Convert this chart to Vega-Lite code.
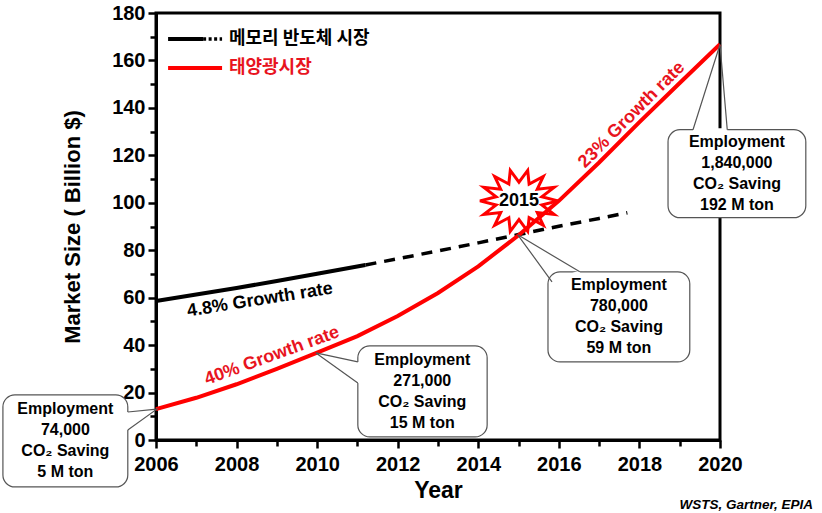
{
  "$schema": "https://vega.github.io/schema/vega-lite/v6.json",
  "width": 564,
  "height": 427,
  "autosize": {"type": "none"},
  "padding": {"left": 156, "top": 13, "right": 102, "bottom": 73},
  "background": "white",
  "config": {
    "view": {"stroke": "black", "strokeWidth": 3},
    "font": "Liberation Sans"
  },
  "datasets": {
    "mem": [{"x":2006,"y":58.6},{"x":2007,"y":61.3},{"x":2008,"y":64.1},{"x":2009,"y":67.0},{"x":2010,"y":70.1},{"x":2011.2,"y":73.8}],
    "memF": [{"x":2011.2,"y":73.8},{"x":2012,"y":76.4},{"x":2013,"y":79.7},{"x":2014,"y":83.1},{"x":2015,"y":86.6},{"x":2016,"y":90.1},{"x":2017,"y":93.4},{"x":2017.7,"y":95.8}],
    "solar": [{"x":2006,"y":13},{"x":2007,"y":17.8},{"x":2008,"y":23.5},{"x":2009,"y":30},{"x":2010,"y":36.8},{"x":2011,"y":43.8},{"x":2012,"y":52.3},{"x":2013,"y":62},{"x":2014,"y":73.2},{"x":2015,"y":86.3},{"x":2016,"y":100.8},{"x":2017,"y":117},{"x":2018,"y":134},{"x":2019,"y":150.5},{"x":2020,"y":166.8}],
    "boxes": [
      {"b":1,"x":2002.2,"x2":2005.3,"y":19.0,"y2":-19.8},
      {"b":2,"x":2011.01,"x2":2014.22,"y":39.7,"y2":1.3},
      {"b":3,"x":2015.73,"x2":2019.25,"y":70.9,"y2":32.9},
      {"b":4,"x":2018.71,"x2":2022.13,"y":130.8,"y2":93.7}
    ],
    "boxtext": [
      {"b":1,"x":2003.75,"y":-0.4,"t":"Employment\n74,000\nCO₂ Saving\n5 M ton"},
      {"b":2,"x":2012.61,"y":20.5,"t":"Employment\n271,000\nCO₂ Saving\n15 M ton"},
      {"b":3,"x":2017.49,"y":51.9,"t":"Employment\n780,000\nCO₂ Saving\n59 M ton"},
      {"b":4,"x":2020.42,"y":112.2,"t":"Employment\n1,840,000\nCO₂ Saving\n192 M ton"}
    ],
    "tails": [
      {"b":1,"o":1,"x":2005.3,"y":11.8},{"b":1,"o":2,"x":2006.02,"y":13.0},{"b":1,"o":3,"x":2005.3,"y":4.2},
      {"b":2,"o":1,"x":2011.01,"y":32.9},{"b":2,"o":2,"x":2009.97,"y":36.7},{"b":2,"o":3,"x":2011.01,"y":24.0},
      {"b":3,"o":1,"x":2015.83,"y":66.7},{"b":3,"o":2,"x":2014.98,"y":86.5},{"b":3,"o":3,"x":2016.52,"y":70.9},
      {"b":4,"o":1,"x":2019.33,"y":130.8},{"b":4,"o":2,"x":2020.0,"y":166.7},{"b":4,"o":3,"x":2020.18,"y":130.8}
    ],
    "star": [{"x":2015.01,"y":100.8,"t":"2015"}],
    "n48": [{"x":2008.58,"y":59.0,"t":"4.8% Growth rate"}],
    "n40": [{"x":2008.88,"y":35.4,"t":"40% Growth rate"}],
    "n23": [{"x":2017.81,"y":137.0,"t":"23% Growth rate"}],
    "legSolid": [{"x":2006.3,"x2":2007.17,"y":169}],
    "legDot": [{"x":2007.17,"x2":2007.64,"y":169}],
    "legRed": [{"x":2006.3,"x2":2007.64,"y":156.8}],
    "legT1": [{"x":2007.81,"y":169,"t":"메모리 반도체 시장"}],
    "legT2": [{"x":2007.81,"y":156.8,"t":"태양광시장"}],
    "src": [{"x":2022.31,"y":-27.4,"t":"WSTS, Gartner, EPIA"}]
  },
  "encoding": {
    "x": {
      "field": "x", "type": "quantitative",
      "scale": {"domain": [2006, 2020], "nice": false, "zero": false},
      "axis": {
        "title": "Year",
        "values": [2006,2007,2008,2009,2010,2011,2012,2013,2014,2015,2016,2017,2018,2019,2020],
        "format": "d",
        "labelExpr": "datum.value % 2 === 0 ? datum.label : ''",
        "labelOverlap": false,
        "labelFlush": false,
        "grid": false,
        "domainColor": "black", "domainWidth": 3,
        "tickColor": "black", "tickWidth": 2.5,
        "tickSize": {"condition": {"test": "datum.value % 2 === 0", "value": 8}, "value": 6},
        "labelFont": "Liberation Sans", "labelFontSize": 20, "labelFontWeight": "bold", "labelColor": "black",
        "labelPadding": 6,
        "titleFont": "Liberation Sans", "titleFontSize": 23, "titleFontWeight": "bold", "titleColor": "black",
        "titleX": 282, "titleY": 50, "titleBaseline": "middle", "titleAlign": "center"
      }
    },
    "y": {
      "field": "y", "type": "quantitative",
      "scale": {"domain": [0, 180], "nice": false, "zero": false},
      "axis": {
        "title": "Market Size ( Billion $)",
        "values": [0,10,20,30,40,50,60,70,80,90,100,110,120,130,140,150,160,170,180],
        "labelExpr": "datum.value % 20 === 0 ? datum.label : ''",
        "labelOverlap": false,
        "labelFlush": false,
        "grid": false,
        "domainColor": "black", "domainWidth": 3,
        "tickColor": "black", "tickWidth": 2.5,
        "tickSize": {"condition": {"test": "datum.value % 20 === 0", "value": 8}, "value": 6},
        "labelFont": "Liberation Sans", "labelFontSize": 20, "labelFontWeight": "bold", "labelColor": "black",
        "labelPadding": 3,
        "titleFont": "Liberation Sans", "titleFontSize": 22, "titleFontWeight": "bold", "titleColor": "black",
        "titleAngle": -90, "titleX": -84, "titleY": 213.5, "titleBaseline": "middle", "titleAlign": "center"
      }
    }
  },
  "layer": [
    {
      "data": {"name": "star"},
      "mark": {"type": "point", "filled": true, "fill": "white", "stroke": "#ff0000", "strokeWidth": 3, "opacity": 1, "size": 6084,
        "shape": "M1,0L0.585,0.107L0.901,0.347L0.469,0.299L0.624,0.625L0.26,0.432L0.223,0.78L0,0.48L-0.223,0.78L-0.26,0.432L-0.624,0.625L-0.469,0.299L-0.901,0.347L-0.585,0.107L-1,0L-0.585,-0.107L-0.901,-0.347L-0.469,-0.299L-0.624,-0.625L-0.26,-0.432L-0.223,-0.78L0,-0.48L0.223,-0.78L0.26,-0.432L0.624,-0.625L0.469,-0.299L0.901,-0.347L0.585,-0.107Z"}
    },
    {
      "data": {"name": "mem"},
      "mark": {"type": "line", "color": "black", "strokeWidth": 4}
    },
    {
      "data": {"name": "memF"},
      "mark": {"type": "line", "color": "black", "strokeWidth": 3.5, "strokeDash": [11, 8]}
    },
    {
      "data": {"name": "solar"},
      "mark": {"type": "line", "color": "#ff0000", "strokeWidth": 4}
    },
    {
      "data": {"name": "star"},
      "mark": {"type": "text", "font": "Liberation Sans", "fontSize": 18, "fontWeight": "bold", "color": "black", "align": "center", "baseline": "middle"},
      "encoding": {"text": {"field": "t"}}
    },
    {
      "data": {"name": "boxes"},
      "mark": {"type": "rect", "fill": "white", "stroke": "#555555", "strokeWidth": 1.2, "cornerRadius": 12},
      "encoding": {"x2": {"field": "x2"}, "y2": {"field": "y2"}}
    },
    {
      "data": {"name": "tails"},
      "transform": [{"filter": "datum.o !== 2"}],
      "mark": {"type": "line", "color": "white", "strokeWidth": 3},
      "encoding": {"detail": {"field": "b"}, "order": {"field": "o"}}
    },
    {
      "data": {"name": "tails"},
      "mark": {"type": "line", "color": "#555555", "strokeWidth": 1.2},
      "encoding": {"detail": {"field": "b"}, "order": {"field": "o"}}
    },
    {
      "data": {"name": "boxtext"},
      "mark": {"type": "text", "font": "Liberation Sans", "fontSize": 16, "fontWeight": "bold", "color": "black", "align": "center", "baseline": "middle", "lineBreak": "\n", "lineHeight": 21, "dy": -31.5},
      "encoding": {"text": {"field": "t"}}
    },
    {
      "data": {"name": "n48"},
      "mark": {"type": "text", "font": "Liberation Sans", "fontSize": 18, "fontWeight": "bold", "color": "black", "align": "center", "baseline": "middle", "angle": 351},
      "encoding": {"text": {"field": "t"}}
    },
    {
      "data": {"name": "n40"},
      "mark": {"type": "text", "font": "Liberation Sans", "fontSize": 18, "fontWeight": "bold", "color": "#e8141e", "align": "center", "baseline": "middle", "angle": 340},
      "encoding": {"text": {"field": "t"}}
    },
    {
      "data": {"name": "n23"},
      "mark": {"type": "text", "font": "Liberation Sans", "fontSize": 18, "fontWeight": "bold", "color": "#e8141e", "align": "center", "baseline": "middle", "angle": 315},
      "encoding": {"text": {"field": "t"}}
    },
    {
      "data": {"name": "legSolid"},
      "mark": {"type": "rule", "color": "black", "strokeWidth": 4},
      "encoding": {"x2": {"field": "x2"}}
    },
    {
      "data": {"name": "legDot"},
      "mark": {"type": "rule", "color": "black", "strokeWidth": 3.5, "strokeDash": [3, 2.5]},
      "encoding": {"x2": {"field": "x2"}}
    },
    {
      "data": {"name": "legRed"},
      "mark": {"type": "rule", "color": "#ff0000", "strokeWidth": 4},
      "encoding": {"x2": {"field": "x2"}}
    },
    {
      "data": {"name": "legT1"},
      "mark": {"type": "text", "font": "Noto Sans CJK KR", "fontSize": 18, "fontWeight": "bold", "color": "black", "align": "left", "baseline": "middle"},
      "encoding": {"text": {"field": "t"}}
    },
    {
      "data": {"name": "legT2"},
      "mark": {"type": "text", "font": "Noto Sans CJK KR", "fontSize": 18, "fontWeight": "bold", "color": "#e8141e", "align": "left", "baseline": "middle"},
      "encoding": {"text": {"field": "t"}}
    },
    {
      "data": {"name": "src"},
      "mark": {"type": "text", "font": "Liberation Sans", "fontSize": 13.5, "fontWeight": "bold", "fontStyle": "italic", "color": "black", "align": "right", "baseline": "middle"},
      "encoding": {"text": {"field": "t"}}
    }
  ]
}
